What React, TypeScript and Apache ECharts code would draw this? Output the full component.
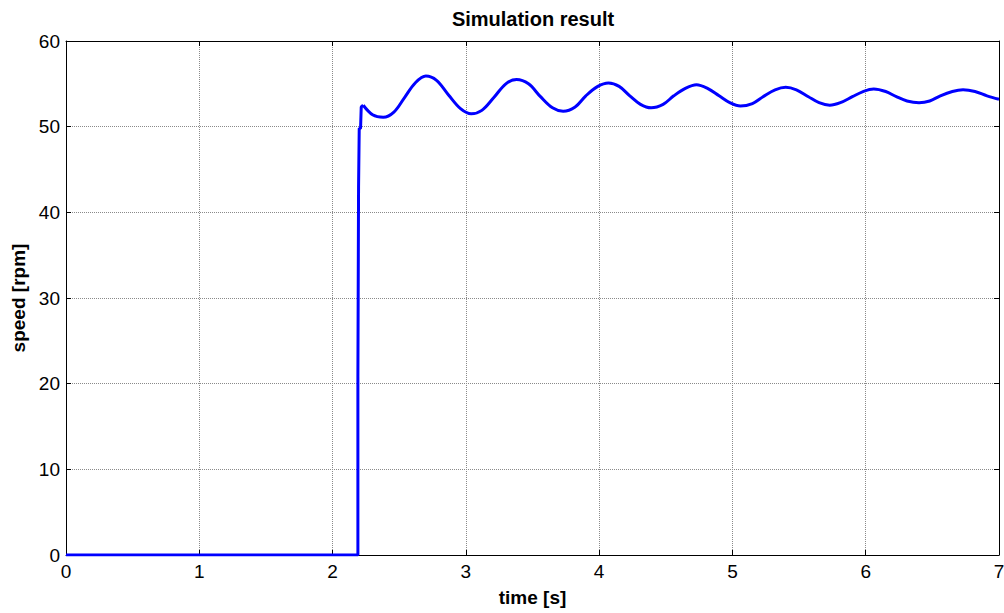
import React, { useEffect, useRef } from "react";
import * as echarts from "echarts";

// Step-up part: time [s], speed [rpm]
const stepTime = [0, 2.19, 2.19, 2.195, 2.195, 2.2, 2.2, 2.21, 2.215, 2.23];
const stepSpeed = [0, 0, 20.8, 20.8, 43, 43, 49.8, 49.8, 52.3, 52.5];

// Oscillation part
const oscTime = [
  2.23, 2.3, 2.38, 2.46, 2.54, 2.62, 2.7, 2.78, 2.87, 2.96, 3.04, 3.12, 3.21, 3.3, 3.38,
  3.47, 3.56, 3.65, 3.73, 3.82, 3.9, 3.99, 4.07, 4.15, 4.23, 4.31, 4.39, 4.48, 4.56, 4.65,
  4.73, 4.81, 4.9, 4.98, 5.06, 5.15, 5.23, 5.32, 5.4, 5.48, 5.57, 5.65, 5.73, 5.81, 5.9,
  5.98, 6.06, 6.15, 6.23, 6.31, 6.4, 6.48, 6.56, 6.65, 6.73, 6.82, 6.91, 7.0,
];
const oscSpeed = [
  52.5, 51.4, 51.1, 51.7, 53.4, 55.1, 55.9, 55.4, 53.7, 52.1, 51.5, 51.9, 53.4, 55.0, 55.5,
  55.0, 53.5, 52.2, 51.8, 52.3, 53.6, 54.7, 55.1, 54.7, 53.6, 52.6, 52.2, 52.6, 53.6, 54.5,
  54.9, 54.5, 53.6, 52.8, 52.4, 52.7, 53.5, 54.3, 54.6, 54.3, 53.5, 52.8, 52.5, 52.8, 53.5,
  54.1, 54.4, 54.1, 53.5, 53.0, 52.8, 53.0, 53.6, 54.1, 54.3, 54.1, 53.6, 53.2,
];

const xTicks = ["0", "1", "2", "3", "4", "5", "6", "7"];
const yTicks = ["0", "10", "20", "30", "40", "50", "60"];

const FONT = "'Liberation Sans', Arial, sans-serif";

export default function App() {
  const ref = useRef<HTMLDivElement>(null);
  useEffect(() => {
    if (!ref.current) return;
    const chart = echarts.init(ref.current, undefined, { renderer: "svg" });
    const stepData = stepTime.map((t, i) => [t, stepSpeed[i]]);
    const oscData = oscTime.map((t, i) => [t, oscSpeed[i]]);
    const axisLine = { show: true, onZero: false, lineStyle: { color: "#000", width: 1 } };
    const tick = { show: true, inside: true, length: 5, lineStyle: { color: "#000" } };
    chart.setOption({
      animation: false,
      backgroundColor: "#fff",
      title: {
        text: "Simulation result",
        left: 533,
        textAlign: "center",
        top: 9,
        padding: 0,
        textStyle: { fontFamily: FONT, fontSize: 20, fontWeight: "bold", color: "#000" },
      },
      grid: {
        left: 66,
        width: 933,
        top: 41,
        height: 514,
        containLabel: false,
        outerBoundsMode: "none",
      },
      xAxis: [
        {
          type: "value",
          min: 0,
          max: 7,
          interval: 1,
          position: "bottom",
          name: "time [s]",
          nameLocation: "middle",
          nameGap: 33,
          nameTextStyle: { fontFamily: FONT, fontSize: 19, fontWeight: "bold", color: "#000" },
          axisLine,
          axisTick: tick,
          axisLabel: {
            fontFamily: FONT,
            fontSize: 19,
            color: "#000",
            margin: 7,
            hideOverlap: false,
            formatter: (v: number) => xTicks[Math.round(v)] ?? "",
          },
          splitLine: { show: true, lineStyle: { color: "#8a8a8a", type: [1, 1], width: 1 } },
        },
        {
          type: "value",
          min: 0,
          max: 7,
          interval: 1,
          position: "top",
          axisLine,
          axisTick: tick,
          axisLabel: { show: false },
          splitLine: { show: false },
        },
      ],
      yAxis: [
        {
          type: "value",
          min: 0,
          max: 60,
          interval: 10,
          position: "left",
          name: "speed [rpm]",
          nameLocation: "middle",
          nameGap: 36,
          nameTextStyle: { fontFamily: FONT, fontSize: 19, fontWeight: "bold", color: "#000" },
          axisLine,
          axisTick: tick,
          axisLabel: {
            fontFamily: FONT,
            fontSize: 19,
            color: "#000",
            margin: 6,
            formatter: (v: number) => yTicks[Math.round(v / 10)] ?? "",
          },
          splitLine: { show: true, lineStyle: { color: "#8a8a8a", type: [1, 1], width: 1 } },
        },
        {
          type: "value",
          min: 0,
          max: 60,
          interval: 10,
          position: "right",
          axisLine,
          axisTick: tick,
          axisLabel: { show: false },
          splitLine: { show: false },
        },
      ],
      series: [
        {
          type: "line",
          data: stepData,
          showSymbol: false,
          smooth: false,
          lineStyle: { color: "#0000ff", width: 3 },
          z: 5,
        },
        {
          type: "line",
          data: oscData,
          showSymbol: false,
          smooth: 0.35,
          lineStyle: { color: "#0000ff", width: 3 },
          z: 5,
        },
      ],
    });
    return () => chart.dispose();
  }, []);
  return (
    <div
      ref={ref}
      style={{ position: "fixed", left: 0, top: 0, width: 1004, height: 613, background: "#fff" }}
    />
  );
}
